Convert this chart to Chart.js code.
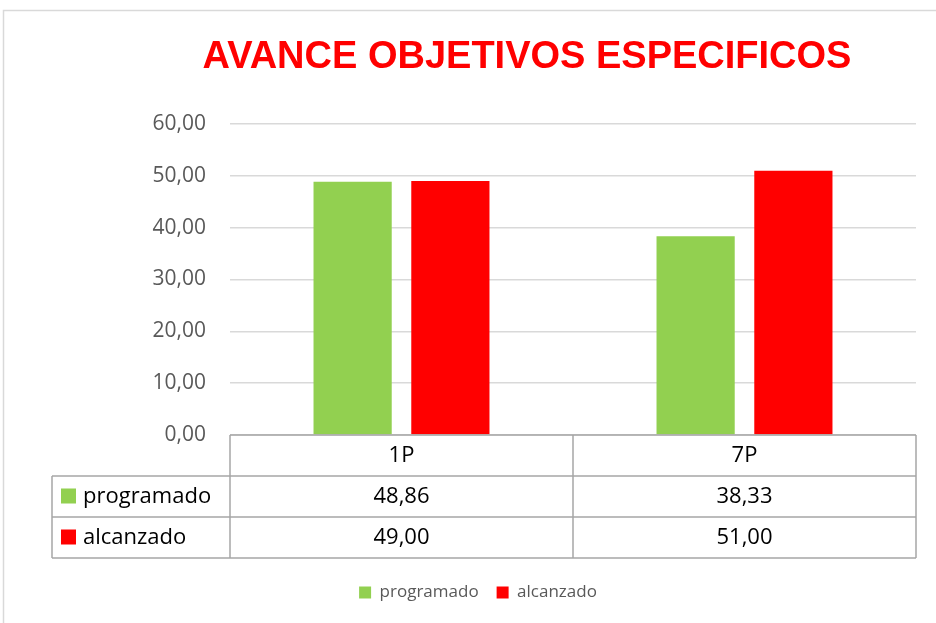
<!DOCTYPE html>
<html>
<head>
<meta charset="utf-8">
<script src="https://cdn.jsdelivr.net/npm/chart.js@4"></script>
<style>
  html, body { margin: 0; padding: 0; background: #fff; }
  #wrap { width: 936px; height: 623px; position: relative; }
</style>
</head>
<body>
<div id="wrap"><canvas id="avance"></canvas></div>
<script>
const titleText = "AVANCE OBJETIVOS ESPECIFICOS";
const categories = ["1P", "7P"];
const programado = [48.86, 38.33];
const alcanzado = [49.00, 51.00];
const seriesNames = ["programado", "alcanzado"];
const seriesColors = ["#92D050", "#FF0000"];

const fmt = v => v.toFixed(2).replace(".", ",");
const bodyFont = "'Open Sans', 'Liberation Sans', sans-serif";

// frame around the chart + title, like the spreadsheet chart box
const framePlugin = {
    id: "frame",
    beforeDraw(chart) {
        const c = chart.ctx;
        c.save();
        c.strokeStyle = "#d9d9d9";
        c.lineWidth = 1.5;
        c.strokeRect(3.5, 10.5, 945, 625);
        c.fillStyle = "#FF0000";
        c.font = "bold 38px 'Liberation Sans', Arial, sans-serif";
        c.textAlign = "center";
        c.textBaseline = "middle";
        c.fillText(titleText, 527, 58);
        c.restore();
    }
};

// data table under the plot area
const tablePlugin = {
    id: "dataTable",
    afterDraw(chart) {
        const c = chart.ctx;
        const x = chart.scales.x;
        const top = chart.chartArea.bottom;
        const rowH = 41;
        const labelLeft = 52;
        const edges = [x.left];
        for (let i = 0; i < categories.length; i++) {
            edges.push(x.left + (x.right - x.left) * (i + 1) / categories.length);
        }
        c.save();
        c.strokeStyle = "#a6a6a6";
        c.lineWidth = 1.5;
        c.beginPath();
        c.moveTo(x.left, top); c.lineTo(x.right, top);
        for (let r = 1; r <= 3; r++) {
            c.moveTo(labelLeft, top + rowH * r); c.lineTo(x.right, top + rowH * r);
        }
        edges.forEach(e => { c.moveTo(e, top); c.lineTo(e, top + rowH * 3); });
        c.moveTo(labelLeft, top + rowH); c.lineTo(labelLeft, top + rowH * 3);
        c.stroke();

        c.fillStyle = "#000";
        c.textAlign = "center";
        c.textBaseline = "middle";
        c.font = "22px " + bodyFont;
        categories.forEach((cat, i) => {
            c.fillText(cat, x.getPixelForValue(i), top + rowH / 2);
        });
        chart.data.datasets.forEach((ds, r) => {
            const cy = top + rowH * (r + 1) + rowH / 2;
            c.fillStyle = ds.backgroundColor;
            c.fillRect(labelLeft + 9, cy - 8, 15, 15);
            c.fillStyle = "#000";
            c.textAlign = "left";
            c.fillText(ds.label, labelLeft + 31, cy);
            c.textAlign = "center";
            ds.data.forEach((v, i) => {
                c.fillText(fmt(v), x.getPixelForValue(i), cy);
            });
        });
        c.restore();
    }
};

new Chart(document.getElementById("avance").getContext("2d"), {
    type: "bar",
    data: {
        labels: categories,
        datasets: [
            { label: seriesNames[0], data: programado, backgroundColor: seriesColors[0], borderWidth: 0 },
            { label: seriesNames[1], data: alcanzado, backgroundColor: seriesColors[1], borderWidth: 0 }
        ]
    },
    options: {
        responsive: true,
        maintainAspectRatio: false,
        animation: false,
        categoryPercentage: 0.57,
        barPercentage: 0.8,
        layout: { padding: { top: 124, right: 20, bottom: 12, left: 40 } },
        scales: {
            x: {
                grid: { display: false },
                border: { display: false },
                ticks: { display: false },
                afterFit(scale) { scale.height = 131; }
            },
            y: {
                min: 0,
                max: 60,
                ticks: {
                    stepSize: 10,
                    padding: 24,
                    color: "#595959",
                    font: { family: bodyFont, size: 21 },
                    callback: v => fmt(v)
                },
                grid: { color: "#d9d9d9", lineWidth: 1.5, drawTicks: false },
                border: { display: false },
                afterFit(scale) { scale.width = 190; }
            }
        },
        plugins: {
            title: { display: false },
            legend: {
                position: "bottom",
                labels: {
                    color: "#595959",
                    boxWidth: 12,
                    boxHeight: 12,
                    padding: 18,
                    font: { family: bodyFont, size: 17 }
                }
            },
            tooltip: { enabled: false }
        }
    },
    plugins: [framePlugin, tablePlugin]
});
</script>
</body>
</html>
